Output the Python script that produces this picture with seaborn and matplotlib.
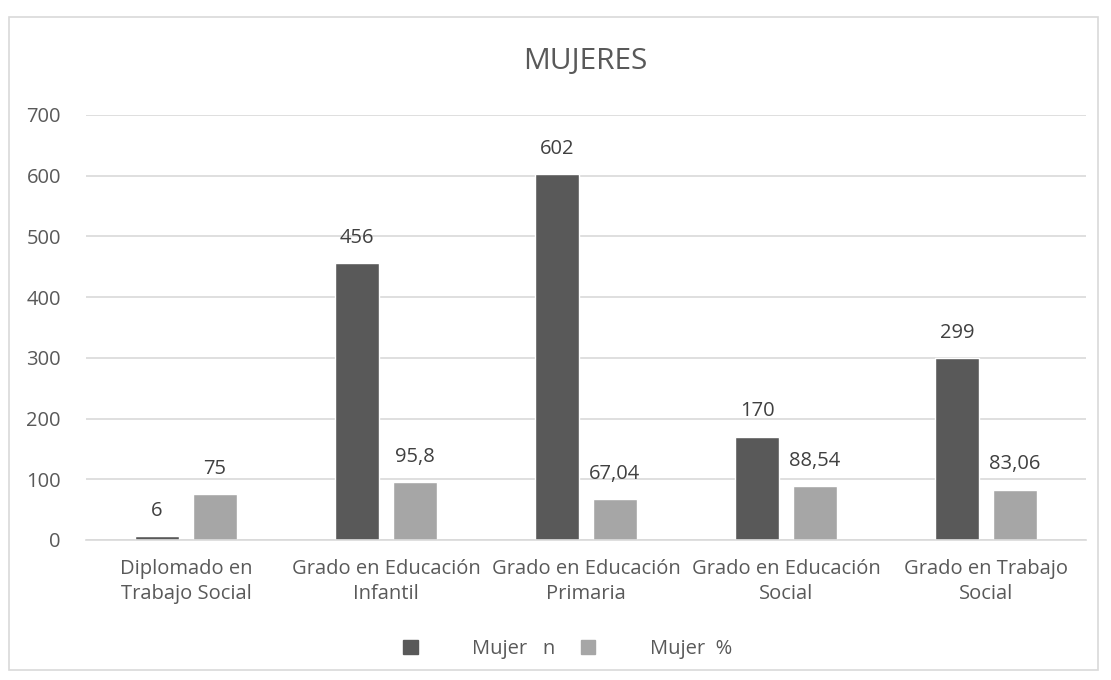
import matplotlib
matplotlib.use("Agg")
import matplotlib.pyplot as plt
import seaborn as sns
import pandas as pd
from matplotlib.patches import Rectangle

categories = ["Diplomado en\nTrabajo Social", "Grado en Educación\nInfantil",
              "Grado en Educación\nPrimaria", "Grado en Educación\nSocial",
              "Grado en Trabajo\nSocial"]
mujer_n = [6, 456, 602, 170, 299]
mujer_pct = [75, 95.8, 67.04, 88.54, 83.06]
pct_labels = ["75", "95,8", "67,04", "88,54", "83,06"]
series = ["Mujer   n", "Mujer  %"]
yticks = [0, 100, 200, 300, 400, 500, 600, 700]

df = pd.DataFrame({
    "cat": categories * 2,
    "val": mujer_n + mujer_pct,
    "serie": [series[0]] * 5 + [series[1]] * 5,
})

sns.set_theme(style="white")
plt.rcParams["font.family"] = ["Open Sans", "DejaVu Sans"]

FS = 14.5
fig = plt.figure(figsize=(11.11, 6.8), dpi=100)
ax = fig.add_axes([0.0774, 0.2059, 0.9001, 0.625])

palette = {series[0]: "#595959", series[1]: "#a6a6a6"}
sns.barplot(data=df, x="cat", y="val", hue="serie", palette=palette,
            width=0.58, gap=0.25, ax=ax, legend=False, saturation=1)

ax.set_ylim(0, 700)
ax.set_yticks(yticks)
ax.set_yticklabels([str(t) for t in yticks], fontsize=FS, color="#595959")
ax.set_xticks(range(len(categories)))
ax.set_xticklabels(categories, fontsize=FS, color="#595959", linespacing=1.3)
ax.tick_params(axis="x", length=0, pad=14)
ax.tick_params(axis="y", length=0, pad=18)
ax.set_xlabel("")
ax.set_ylabel("")
ax.yaxis.grid(True, color="#d9d9d9", linewidth=1.2)
ax.set_axisbelow(True)
for s in ["top", "right", "left"]:
    ax.spines[s].set_visible(False)
ax.spines["bottom"].set_color("#d9d9d9")
ax.spines["bottom"].set_linewidth(1.2)
ax.set_xlim(-0.5, 4.5)

labels_all = [[str(v) for v in mujer_n], pct_labels]
for cont, labs in zip(ax.containers, labels_all):
    ax.bar_label(cont, labels=labs, padding=11, fontsize=FS, color="#404040")

fig.text(0.527, 0.909, "MUJERES", ha="center", va="center", fontsize=21.5, color="#595959")

# legend
handles = [Rectangle((0, 0), 1, 1, color=palette[s]) for s in series]
fig.legend(handles, series, loc="center", bbox_to_anchor=(0.511, 0.045), ncol=2,
           frameon=False, fontsize=FS, labelcolor="#595959",
           handlelength=0.7, handleheight=0.7, handletextpad=2.7, columnspacing=1.3)

# outer border
fig.patches.append(Rectangle((0.008, 0.015), 0.98, 0.96, transform=fig.transFigure,
                             fill=False, edgecolor="#d9d9d9", linewidth=1.2))

fig.savefig("out.png", dpi=100)
